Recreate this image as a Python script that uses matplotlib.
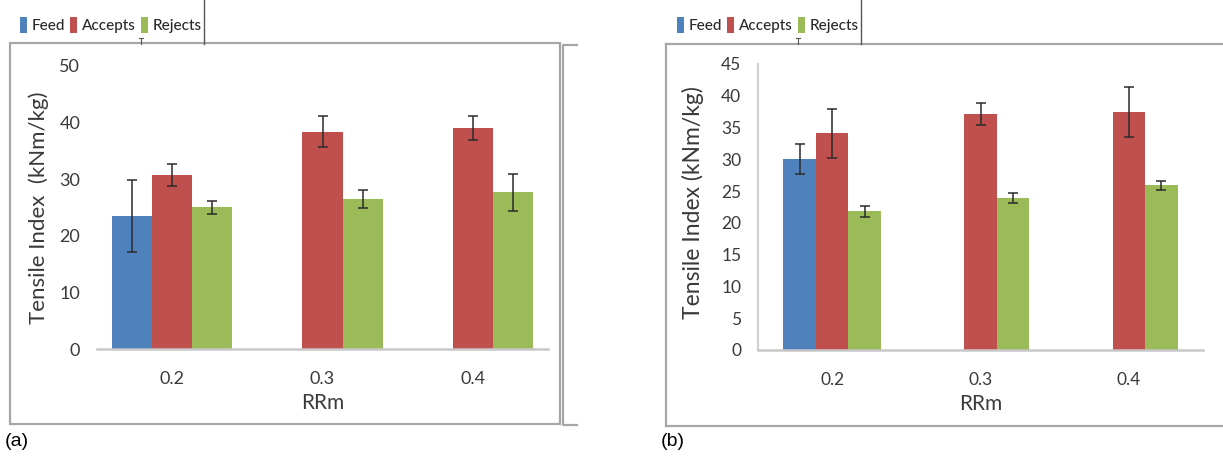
import numpy as np
import matplotlib
matplotlib.use('Agg')
import matplotlib.pyplot as plt
from matplotlib.patches import Rectangle
from matplotlib.lines import Line2D

# data
rrm = ["0.2", "0.3", "0.4"]
series = ["Feed", "Accepts", "Rejects"]
colors = ["#4F81BD", "#C0504D", "#9BBB59"]

feed_a = [23.5, np.nan, np.nan]
feed_a_err = [6.4, np.nan, np.nan]
acc_a = [30.7, 38.4, 39.0]
acc_a_err = [1.9, 2.7, 2.1]
rej_a = [25.0, 26.5, 27.7]
rej_a_err = [1.2, 1.6, 3.3]

feed_b = [30.0, np.nan, np.nan]
feed_b_err = [2.35, np.nan, np.nan]
acc_b = [34.1, 37.1, 37.4]
acc_b_err = [3.85, 1.75, 3.95]
rej_b = [21.85, 23.9, 25.9]
rej_b_err = [0.85, 0.75, 0.75]

W, H = 1223, 461
fig = plt.figure(figsize=(W / 100, H / 100), dpi=100)
fig.patch.set_facecolor('white')

font = 'Lato'
txt_col = '#3a3a3a'
grey = '#A6A6A6'


def px(x0, y0, x1, y1):
    # pixel box -> figure fraction rect
    return [x0 / W, 1 - y1 / H, (x1 - x0) / W, (y1 - y0) / H]


def fline(xs, ys, **kw):
    fig.add_artist(Line2D([x / W for x in xs], [1 - y / H for y in ys],
                          transform=fig.transFigure, **kw))


def panel(rect, vals, errs, width, ymax, ystep, ylabel, ylab_x, ylab_y, fs, ylab_fs, left_spine):
    ax = fig.add_axes(rect)
    x = np.arange(len(rrm))
    bars = []
    for i, (v, e) in enumerate(zip(vals, errs)):
        b = ax.bar(x + (i - 1) * width, v, width, color=colors[i], label=series[i],
                   yerr=e, error_kw=dict(ecolor='#2b2b2b', elinewidth=1.1, capsize=3.5, capthick=1.1),
                   zorder=2)
        bars.append(b)
    ax.set_xlim(-0.5, 2.5)
    ax.set_ylim(0, ymax)
    ax.set_yticks(np.arange(0, ymax + 0.1, ystep))
    ax.set_xticks(x)
    ax.set_xticklabels(rrm)
    for s in ['top', 'right']:
        ax.spines[s].set_visible(False)
    ax.spines['left'].set_visible(left_spine)
    ax.spines['left'].set_color('#D0D0D0')
    ax.spines['left'].set_linewidth(1.5)
    ax.spines['bottom'].set_color('#C8C8C8')
    ax.spines['bottom'].set_linewidth(1.8)
    ax.tick_params(axis='both', length=0, colors=txt_col)
    ax.tick_params(axis='y', labelsize=fs, pad=12)
    ax.tick_params(axis='x', labelsize=fs, pad=16)
    for t in ax.get_xticklabels() + ax.get_yticklabels():
        t.set_fontfamily(font)
    ax.set_xlabel('RRm', fontsize=15, fontfamily=font, color=txt_col)
    ax.xaxis.set_label_coords(0.5, -0.155)
    ax.set_ylabel(ylabel, fontsize=ylab_fs, fontfamily=font, color=txt_col)
    ax.yaxis.set_label_coords(ylab_x, ylab_y)
    ax.set_facecolor('none')
    return ax, bars


ax_a, bars_a = panel(px(97, 66, 548, 349), [feed_a, acc_a, rej_a], [feed_a_err, acc_a_err, rej_a_err],
                     0.267, 50, 10, 'Tensile Index  (kNm/kg)', -0.107, 0.5, 13, 16, False)
ax_b, bars_b = panel(px(758, 64, 1203, 350), [feed_b, acc_b, rej_b], [feed_b_err, acc_b_err, rej_b_err],
                     0.22, 45, 5, 'Tensile Index (kNm/kg)', -0.122, 0.515, 12.5, 16.5, True)

# frames around each chart
fig.add_artist(Rectangle((10 / W, 1 - 424 / H), 550 / W, 381 / H, transform=fig.transFigure,
                         fill=False, edgecolor=grey, lw=1.6))
fline([577, 563, 563, 577], [45, 45, 425, 425], color=grey, lw=1.6)
fline([666, 1223], [44, 44], color=grey, lw=1.6)
fline([666, 666], [44, 426], color=grey, lw=1.6)
fline([666, 1223], [426, 426], color=grey, lw=1.6)

# legend separators and the little stray cap mark
fline([204, 204], [0, 44], color='#555555', lw=1.0)
fline([861, 861], [0, 44], color='#555555', lw=1.0)
for xm in [141, 798]:
    fline([xm, xm], [38, 44], color='#555555', lw=0.8)
    fline([xm - 2, xm + 2], [38, 38], color='#555555', lw=0.8)

for bars, x0 in [(bars_a, 20 / W), (bars_b, 677 / W)]:
    fig.legend(bars, series, loc='center left', bbox_to_anchor=(x0, 1 - 25 / H), ncol=3,
               frameon=False, handlelength=0.45, handleheight=1.2, handletextpad=0.3,
               columnspacing=0.35, borderpad=0, borderaxespad=0,
               prop=dict(family=font, size=11, weight='medium'), labelcolor='#2a2a2a')

fig.text(5 / W, 1 - 441 / H, '(a)', fontsize=14, fontfamily='Liberation Sans', va='center', ha='left')
fig.text(661 / W, 1 - 441 / H, '(b)', fontsize=14, fontfamily='Liberation Sans', va='center', ha='left')

fig.savefig('out.png', dpi=100, facecolor='white')
